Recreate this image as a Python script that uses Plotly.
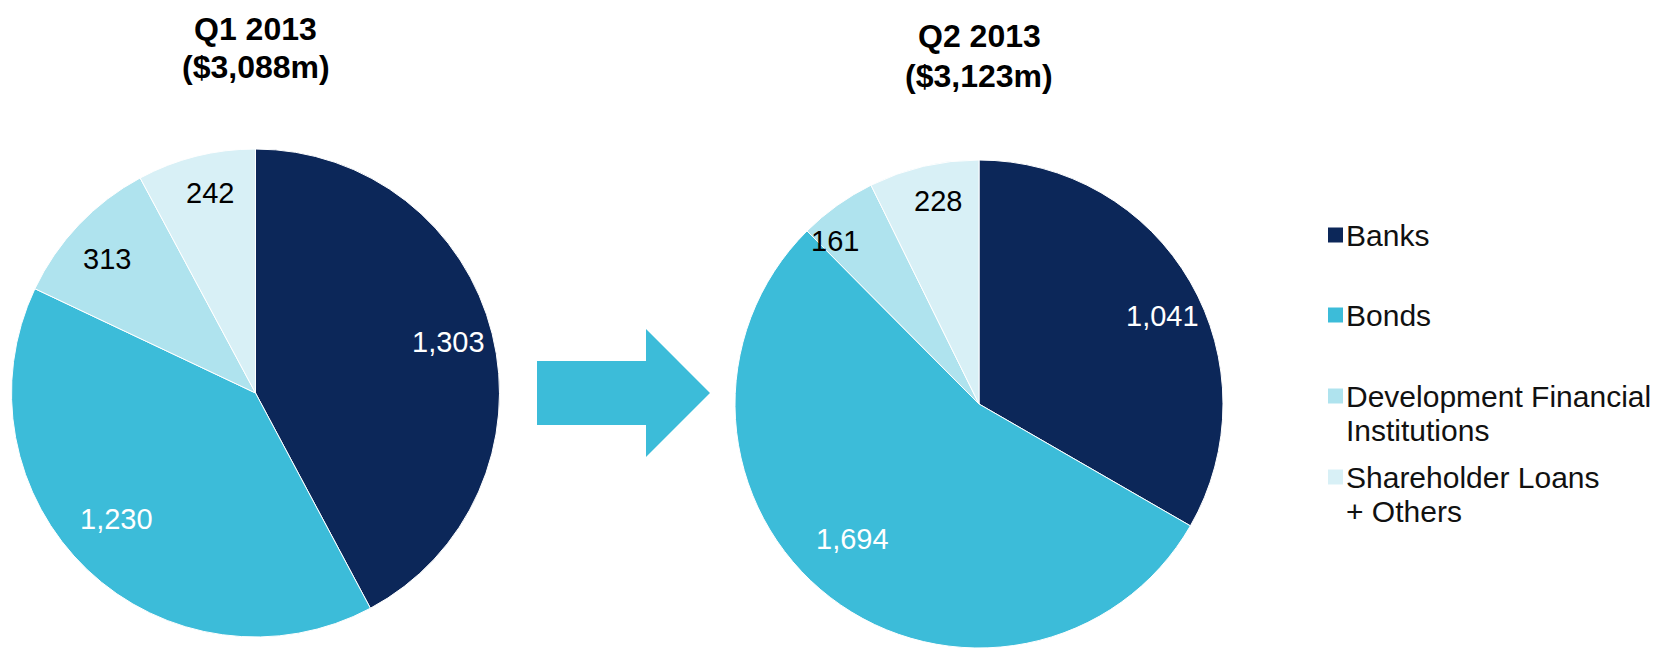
import math
import plotly.graph_objects as go

# ---------------- data ----------------
categories = ["Banks", "Bonds", "Development Financial Institutions", "Shareholder Loans + Others"]
legend_lines = [["Banks"], ["Bonds"], ["Development Financial", "Institutions"], ["Shareholder Loans", "+ Others"]]
q1_values = [1303, 1230, 313, 242]
q2_values = [1041, 1694, 161, 228]
q1_title = ["Q1 2013", "($3,088m)"]
q2_title = ["Q2 2013", "($3,123m)"]

# ---------------- style ----------------
W, H = 1666, 650
colors = ["#0c2759", "#3cbcd9", "#afe3ee", "#d8f0f6"]
label_colors = ["white", "white", "black", "black"]
FONT = "Liberation Sans, Arial, sans-serif"
label_size = 29
title_size = 32
legend_size = 30

# pie placement in pixels (left, top, diameter), title line centres,
# label radial fractions and angular nudges (degrees) for "best fit" label placement
pies = [
    dict(values=q1_values, title=q1_title, left=11.5, top=149, d=488, ty=[29, 67],
         lr=[0.82, 0.77, 0.82, 0.84], la=[-0.7, 4.3, -1.4, 1.4]),
    dict(values=q2_values, title=q2_title, left=735, top=160, d=488, ty=[36, 76],
         lr=[0.835, 0.76, 0.89, 0.85], la=[4.4, 5.6, -6.0, 1.8]),
]

fig = go.Figure()
annotations = []
shapes = []

for p in pies:
    x0, x1 = p["left"] / W, (p["left"] + p["d"]) / W
    y0, y1 = 1 - (p["top"] + p["d"]) / H, 1 - p["top"] / H
    fig.add_trace(go.Pie(
        labels=categories, values=p["values"], sort=False, direction="clockwise",
        rotation=0, marker=dict(colors=colors, line=dict(color="white", width=1)),
        textinfo="none", hoverinfo="label+value", showlegend=False,
        domain=dict(x=[x0, x1], y=[y0, y1]),
    ))
    cx = p["left"] + p["d"] / 2
    cy = p["top"] + p["d"] / 2
    r = p["d"] / 2
    total = sum(p["values"])
    cum = 0
    for v, lc, f, da in zip(p["values"], label_colors, p["lr"], p["la"]):
        mid = (cum + v / 2) / total * 2 * math.pi + math.radians(da)
        cum += v
        px = cx + f * r * math.sin(mid)
        py = cy - f * r * math.cos(mid)
        annotations.append(dict(
            x=px / W, y=1 - py / H, xref="paper", yref="paper", showarrow=False,
            text=f"{v:,}", font=dict(family=FONT, size=label_size, color=lc),
            xanchor="center", yanchor="middle"))
    for line, ty in zip(p["title"], p["ty"]):
        annotations.append(dict(
            x=cx / W, y=1 - ty / H, xref="paper", yref="paper", showarrow=False,
            text=f"<b>{line}</b>", font=dict(family=FONT, size=title_size, color="black"),
            xanchor="center", yanchor="middle"))

# arrow (decorative)
arrow_px = [(537, 361), (646, 361), (646, 329), (710, 393), (646, 457), (646, 425), (537, 425)]
path = "M " + " L ".join(f"{x / W:.5f},{1 - y / H:.5f}" for x, y in arrow_px) + " Z"
shapes.append(dict(type="path", path=path, xref="paper", yref="paper",
                   fillcolor="#3cbcd9", line=dict(width=0)))

# custom legend
sq_x = 1328
sq = 15
text_x = 1344
leg_y = [235, 315, 396, 477]
line_gap = 34
for lines, col, yc in zip(legend_lines, colors, leg_y):
    shapes.append(dict(type="rect", xref="paper", yref="paper",
                       x0=sq_x / W, x1=(sq_x + sq) / W,
                       y0=1 - (yc + sq / 2) / H, y1=1 - (yc - sq / 2) / H,
                       fillcolor=col, line=dict(width=0)))
    for i, ln in enumerate(lines):
        annotations.append(dict(
            x=text_x / W, y=1 - (yc + i * line_gap) / H, xref="paper", yref="paper",
            showarrow=False, text=ln, align="left",
            font=dict(family=FONT, size=legend_size, color="#111111"),
            xanchor="left", yanchor="middle"))

fig.update_layout(
    width=W, height=H, margin=dict(l=0, r=0, t=0, b=0),
    paper_bgcolor="white", plot_bgcolor="white",
    annotations=annotations, shapes=shapes, showlegend=False,
)
fig.write_html("out.html", config={"displayModeBar": False})

# remove the browser's default body margin so the figure sits at the page origin
with open("out.html", "r", encoding="utf-8") as fh:
    html = fh.read()
html = html.replace("<head>", "<head><style>html,body{margin:0;padding:0;overflow:hidden;}</style>", 1)
with open("out.html", "w", encoding="utf-8") as fh:
    fh.write(html)
